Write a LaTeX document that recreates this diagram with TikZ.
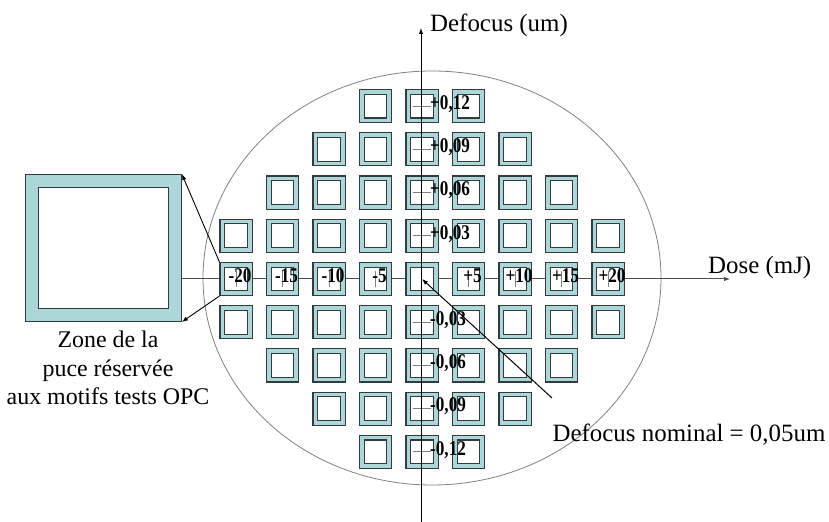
\documentclass[tikz,border=0pt]{standalone}
\usepackage{fontspec}
\setmainfont{Liberation Serif}
\newfontfamily\stepfont{Liberation Serif}[FakeStretch=0.82]
\usepackage{tikz}
\usetikzlibrary{arrows.meta}
\usepackage{xcolor}
\definecolor{chipteal}{RGB}{172,214,216}
\definecolor{chipline}{RGB}{50,60,60}

\begin{document}
\begin{tikzpicture}[x=1bp,y=-1bp,
    chip/.style={draw=chipline, line width=1.1bp, double=chipteal, double distance=3.6bp,
      fill=white, minimum width=27.4bp, minimum height=28.4bp, inner sep=0pt, outer sep=2.9bp},
    bigchip/.style={chip, double distance=11.4bp, minimum width=143.2bp, minimum height=134.2bp, outer sep=6.8bp},
    steptxt/.style={font=\fontsize{21}{21}\stepfont\bfseries, inner sep=0pt},
    axistxt/.style={font=\fontsize{25}{29}\selectfont, inner sep=0pt},
    gridtick/.style={draw=gray, line width=1bp},
    tip/.style={-{Latex[length=6bp,width=4.5bp]}},
  ]
  \useasboundingbox (0,0) rectangle (829,522);

  % wafer
  \draw[gray, line width=0.8bp] (432,278) ellipse [x radius=229bp, y radius=207bp];

  \node[bigchip] (bigchip) at (103.5,248) {};
  \node[axistxt, align=center, font=\fontsize{24}{28.5}\selectfont] (zone) at (108,368) {Zone de la\\puce réservée\\aux motifs tests OPC};

  \coordinate (dose-head) at (730,279);
  \draw[tip, black!70, line width=1bp] (bigchip.east |- dose-head) -- (dose-head);
  \node[axistxt, anchor=west] (dose-label) at (708,268) {Dose (mJ)};

  % chips of the wafer
  \foreach \r in {1,...,9}{
    \pgfmathtruncatemacro\d{abs(\r-5)}
    \pgfmathtruncatemacro\lo{5-min(4,5-\d)}
    \pgfmathtruncatemacro\hi{5+min(4,5-\d)}
    \foreach \c in {\lo,...,\hi}
      \node[chip] (cell-\r-\c) at ({422+46.5*(\c-5)},{279+43.2*(\r-5)}) {};
  }

  \foreach \c/\t in {1/-20,2/-15,3/-10,4/-5,6/+5,7/+10,8/+15,9/+20}{
    \draw[gridtick] ([yshift=-8bp]cell-5-\c.center) -- ([yshift=8bp]cell-5-\c.center);
    \node[steptxt] (dose-\c) at ([xshift=4bp,yshift=3bp]cell-5-\c.center) {\t};
  }
  \foreach \r/\t in {1/{+0,12},2/{+0,09},3/{+0,06},4/{+0,03},6/{-0,03},7/{-0,06},8/{-0,09},9/{-0,12}}{
    \draw[gridtick] ([xshift=-9bp]cell-\r-5.center) -- ([xshift=9bp]cell-\r-5.center);
    \node[steptxt, anchor=west] (focus-\r) at ([xshift=8bp,yshift=2bp]cell-\r-5.center) {\t};
  }

  \coordinate (focus-foot) at (421,522);
  \coordinate (focus-head) at (421,28);
  \draw[tip, line width=1bp] (focus-foot) -- (focus-head);
  \node[axistxt, anchor=west] (focus-label) at (430,25) {Defocus (um)};

  \draw[tip, line width=0.9bp] (cell-5-1.north west) -- (bigchip.north east);
  \draw[tip, line width=0.9bp] (cell-5-1.south west) -- (bigchip.south east);

  \node[axistxt] (nominal) at (689,435) {Defocus nominal = 0,05um};
  \coordinate (nominal-foot) at (552,398);
  \draw[tip, line width=1bp] (nominal-foot) -- (cell-5-5.center);

\end{tikzpicture}
\end{document}
